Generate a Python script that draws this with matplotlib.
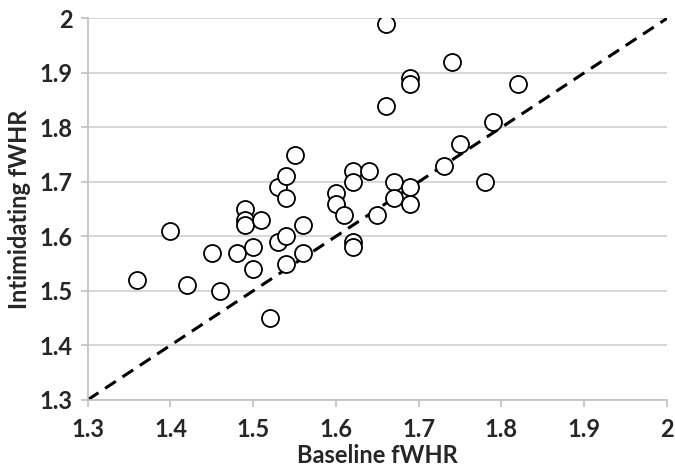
import numpy as np
import matplotlib.pyplot as plt

plt.rcParams['font.family'] = ['Lato', 'DejaVu Sans']

# baseline vs intimidating fWHR
baseline = [1.36, 1.40, 1.42, 1.45, 1.46, 1.48, 1.49, 1.49, 1.49, 1.50,
            1.50, 1.51, 1.52, 1.53, 1.53, 1.54, 1.54, 1.54, 1.54, 1.55,
            1.56, 1.56, 1.60, 1.60, 1.61, 1.62, 1.62, 1.62, 1.62, 1.64,
            1.65, 1.66, 1.66, 1.67, 1.67, 1.69, 1.69, 1.69, 1.69, 1.73,
            1.74, 1.75, 1.78, 1.79, 1.82]
intimidating = [1.52, 1.61, 1.51, 1.57, 1.50, 1.57, 1.65, 1.63, 1.62, 1.58,
                1.54, 1.63, 1.45, 1.69, 1.59, 1.71, 1.67, 1.60, 1.55, 1.75,
                1.62, 1.57, 1.68, 1.66, 1.64, 1.72, 1.70, 1.59, 1.58, 1.72,
                1.64, 1.99, 1.84, 1.70, 1.67, 1.89, 1.88, 1.69, 1.66, 1.73,
                1.92, 1.77, 1.70, 1.81, 1.88]

ticks = [1.3, 1.4, 1.5, 1.6, 1.7, 1.8, 1.9, 2.0]
tick_labels = ['1.3', '1.4', '1.5', '1.6', '1.7', '1.8', '1.9', '2']

fig = plt.figure(figsize=(6.75, 4.72), dpi=100)
ax = fig.add_axes([0.130, 0.153, 0.858, 0.808])

ax.plot([1.3, 2.0], [1.3, 2.0], color='black', linestyle=(0, (4.2, 2.6)), linewidth=2.2, zorder=2)
ax.scatter(baseline, intimidating, s=150, facecolors='white', edgecolors='black', linewidths=1.3, zorder=3)

ax.set_xlim(1.3, 2.0)
ax.set_ylim(1.3, 2.0)
ax.set_xticks(ticks)
ax.set_yticks(ticks)
ax.set_xticklabels(tick_labels, fontsize=17, fontweight='bold')
ax.set_yticklabels(tick_labels, fontsize=17, fontweight='bold')

ax.yaxis.grid(True, color='#d0d0d0', linewidth=1.2)
ax.set_axisbelow(True)
for side in ['top', 'right']:
    ax.spines[side].set_visible(False)
for side in ['left', 'bottom']:
    ax.spines[side].set_color('#c0c0c0')
    ax.spines[side].set_linewidth(1.2)

ax.tick_params(axis='both', colors='#c0c0c0', length=5, width=1.2, labelcolor='#262626')
ax.tick_params(axis='x', pad=8)
ax.tick_params(axis='y', pad=6)

ax.set_xlabel('Baseline fWHR', fontsize=17, fontweight='bold', color='#262626', labelpad=2)
ax.set_ylabel('Intimidating fWHR', fontsize=17, fontweight='bold', color='#262626', labelpad=6)

plt.savefig('out.png', dpi=100)
